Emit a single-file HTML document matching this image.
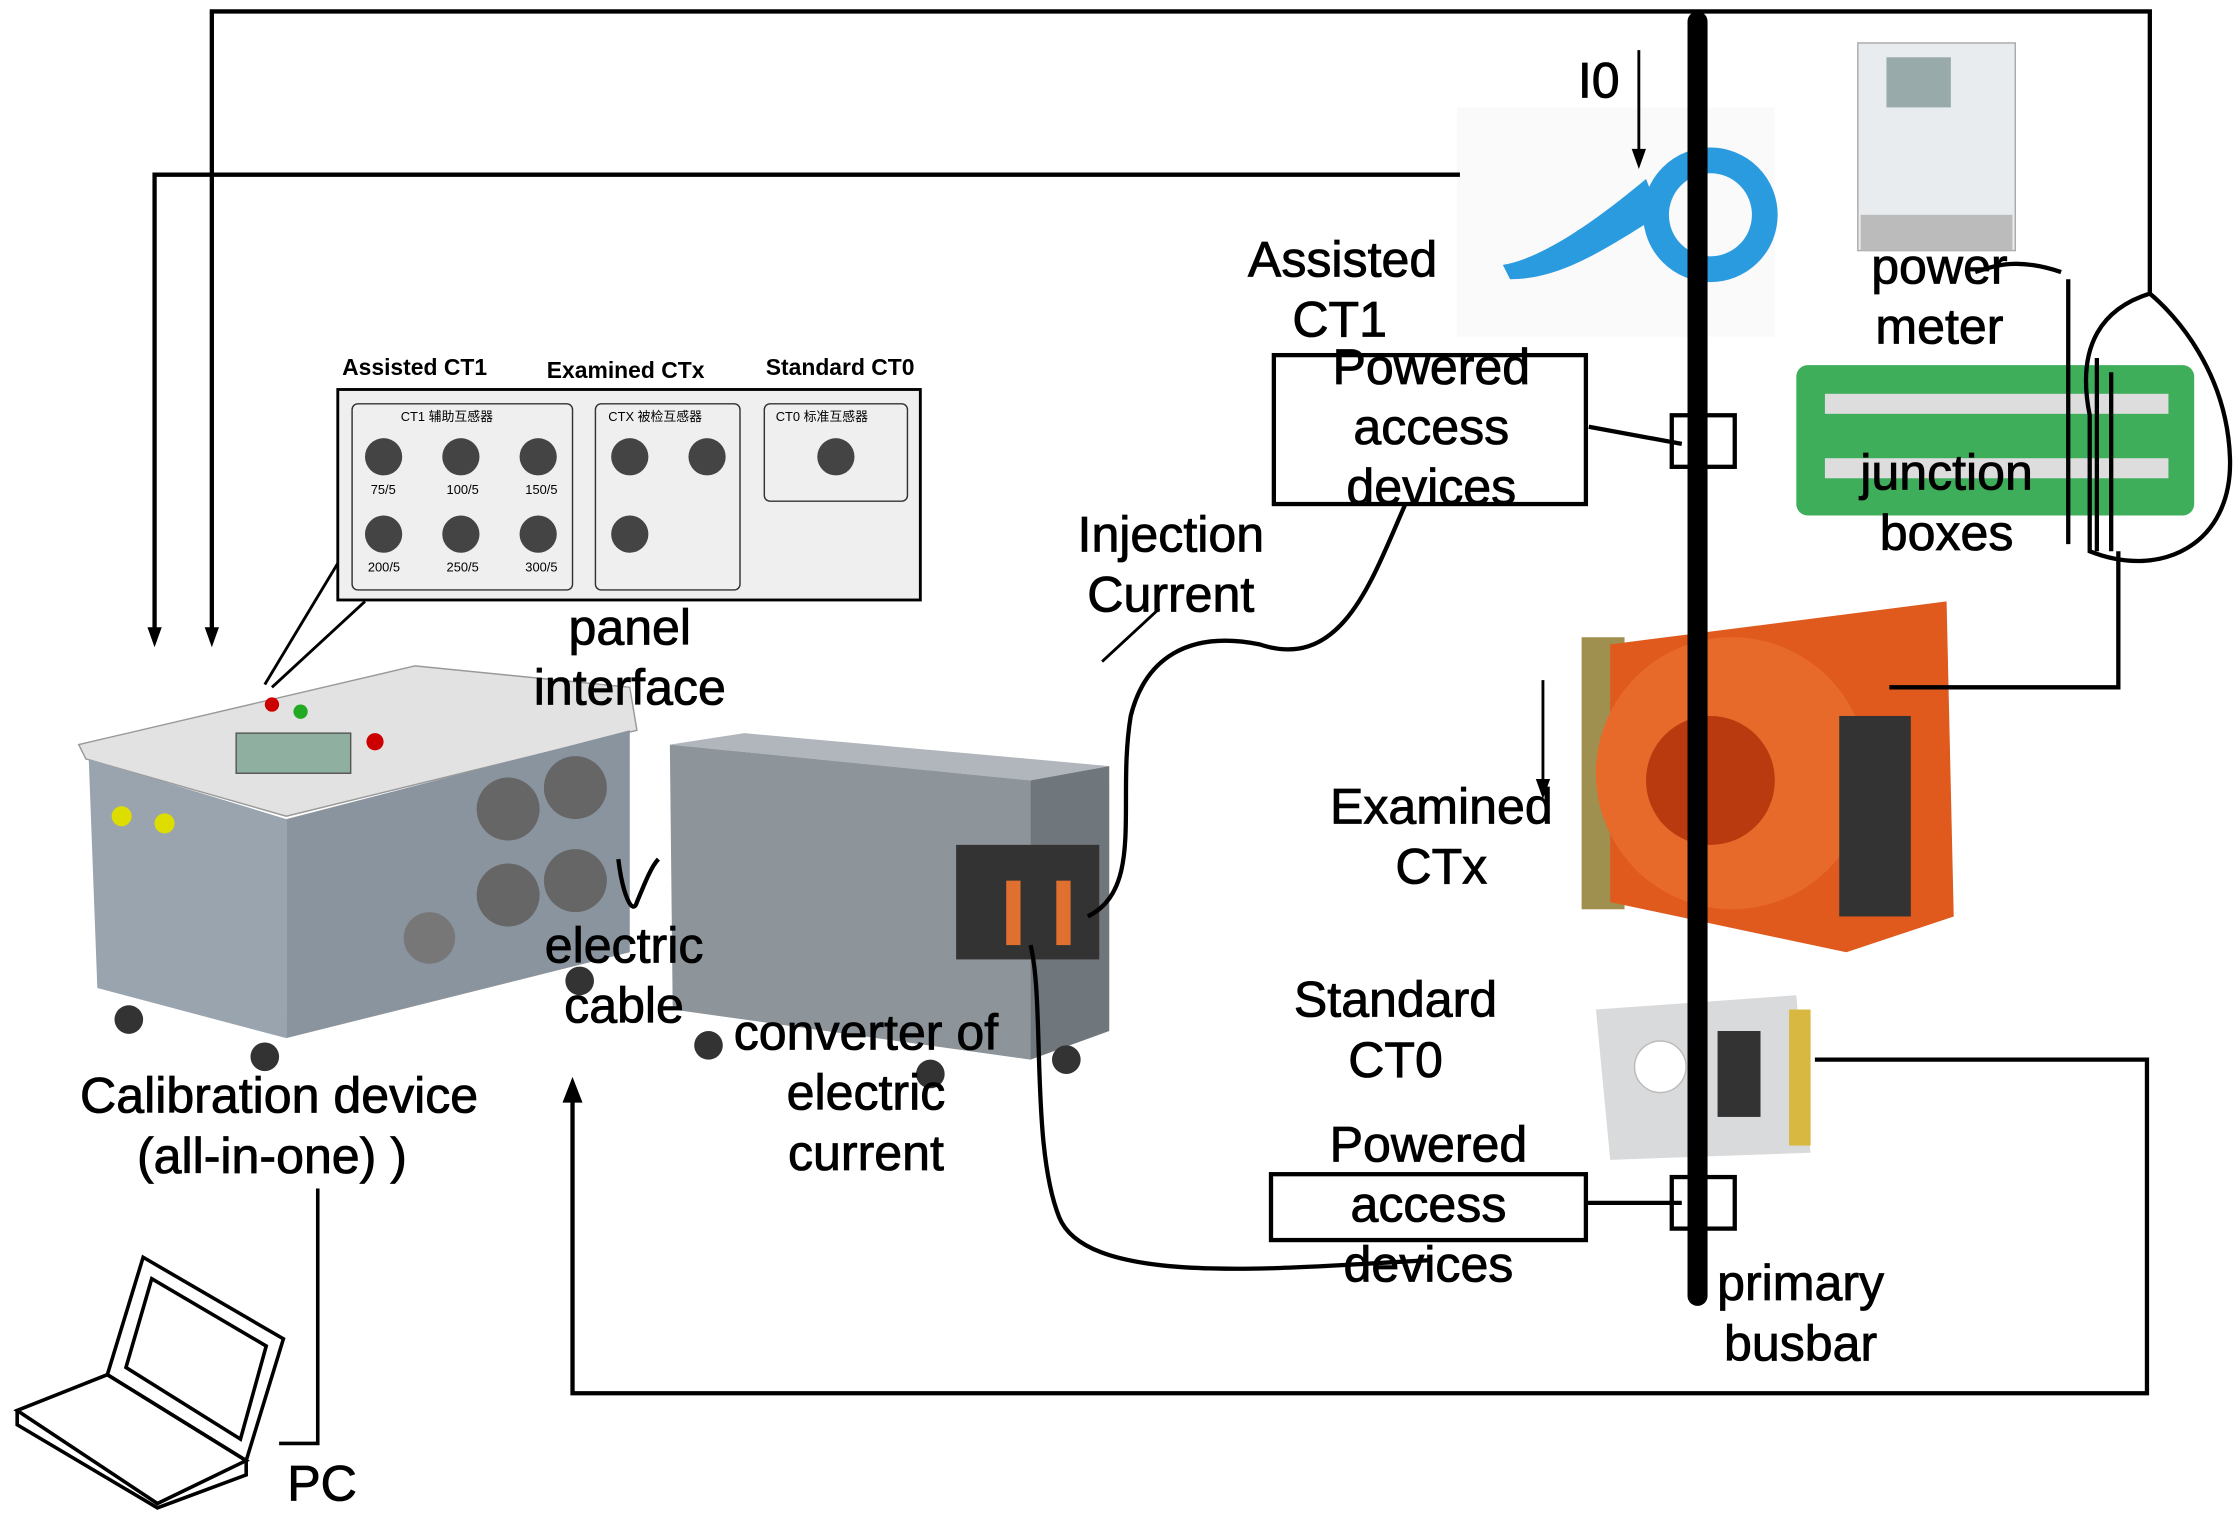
<!DOCTYPE html>
<html><head><meta charset="utf-8"><style>
html,body{margin:0;padding:0;background:#fff;}
svg{display:block;}
text{font-family:"Liberation Sans","Noto Sans CJK SC",sans-serif;fill:#000;}
</style></head><body>
<svg width="2240" height="1515" viewBox="0 0 1565 1058" preserveAspectRatio="none" xmlns="http://www.w3.org/2000/svg">
<!-- calibration device -->
<path d="M55,520 L290,465 L440,480 L445,510 L200,570 L60,530Z" fill="#e2e2e2" stroke="#999"/>
<path d="M62,530 L200,572 L200,725 L68,690Z" fill="#9aa4ae"/>
<path d="M200,572 L440,510 L440,665 L200,725Z" fill="#8a949e"/>
<rect x="165" y="512" width="80" height="28" fill="#8fb0a0" stroke="#555"/>
<circle cx="355" cy="565" r="22" fill="#666"/><circle cx="402" cy="550" r="22" fill="#666"/><circle cx="355" cy="625" r="22" fill="#666"/><circle cx="402" cy="615" r="22" fill="#666"/><circle cx="300" cy="655" r="18" fill="#777"/>
<circle cx="90" cy="712" r="10" fill="#333"/><circle cx="185" cy="738" r="10" fill="#333"/><circle cx="405" cy="685" r="10" fill="#333"/>
<circle cx="85" cy="570" r="7" fill="#dd0"/><circle cx="115" cy="575" r="7" fill="#dd0"/>
<circle cx="190" cy="492" r="5" fill="#c00"/><circle cx="210" cy="497" r="5" fill="#2a2"/><circle cx="262" cy="518" r="6" fill="#c00"/>
<!-- converter -->
<path d="M468,520 L520,512 L775,535 L720,545Z" fill="#b0b6bc"/>
<path d="M468,520 L720,545 L720,740 L470,705Z" fill="#8d949a"/>
<path d="M720,545 L775,535 L775,720 L720,740Z" fill="#6f767c"/>
<rect x="668" y="590" width="100" height="80" fill="#333"/><rect x="703" y="615" width="10" height="45" fill="#e07030"/><rect x="738" y="615" width="10" height="45" fill="#e07030"/>
<circle cx="495" cy="730" r="10" fill="#333"/><circle cx="650" cy="750" r="10" fill="#333"/><circle cx="745" cy="740" r="10" fill="#333"/>
<!-- clamp -->
<rect x="1018" y="75" width="222" height="160" fill="#fafafa"/>
<path d="M1050,185 C1080,180 1120,150 1150,125 L1160,150 C1120,175 1090,195 1055,195Z" fill="#2b9be0"/>
<circle cx="1195" cy="150" r="38" fill="none" stroke="#2b9be0" stroke-width="18"/>
<!-- power meter -->
<rect x="1298" y="30" width="110" height="145" fill="#e8ecef" stroke="#aaa"/><rect x="1318" y="40" width="45" height="35" fill="#9aa"/>
<rect x="1300" y="150" width="106" height="25" fill="#bbb"/>
<!-- junction -->
<rect x="1255" y="255" width="278" height="105" rx="8" fill="#3fae5a"/>
<g fill="#ddd"><rect x="1275" y="275" width="240" height="14"/><rect x="1275" y="320" width="240" height="14"/></g>
<!-- orange CT -->
<rect x="1105" y="445" width="30" height="190" fill="#a09050"/>
<path d="M1125,450 L1360,420 L1365,640 L1290,665 L1125,630Z" fill="#e05a1e"/>
<circle cx="1210" cy="540" r="95" fill="#e86a2a"/><circle cx="1195" cy="545" r="45" fill="#b83a0e"/>
<rect x="1285" y="500" width="50" height="140" fill="#333"/>
<!-- standard CT -->
<path d="M1115,705 L1255,695 L1265,805 L1125,810Z" fill="#d8dadc"/><circle cx="1160" cy="745" r="18" fill="#fff" stroke="#bbb"/><rect x="1200" y="720" width="30" height="60" fill="#333"/><rect x="1250" y="705" width="15" height="95" fill="#d8b840"/>

<g fill="none" stroke="#000" stroke-width="3">
<path d="M148,448 V8 H1502 V205 C1470,215 1450,240 1460,290 V385 C1510,405 1560,380 1558,320 C1556,260 1520,220 1502,205"/>
<path d="M108,448 V122 H1020"/>
<path d="M400,760 V973 H1500 V740 H1268"/>
<path d="M1480,385 V480 H1320"/>
<path d="M1110,298 L1175,310"/>
<path d="M1108,840 H1175"/>
<path d="M985,345 C960,400 940,470 880,450 C830,440 800,460 790,500 C780,560 800,620 760,640"/>
<path d="M720,660 C730,700 720,800 740,850 C760,900 900,885 1000,880"/>
<path d="M1440,190 C1410,180 1395,185 1380,190"/>
<path d="M1445,195 V380 M1465,250 V385 M1475,260 V385"/>
<path d="M432,600 C435,625 442,640 445,630 C450,618 455,605 460,600"/>
</g>
<g stroke="#000" stroke-width="2" fill="none">
<line x1="1145" y1="35" x2="1145" y2="105"/>
<line x1="1078" y1="475" x2="1078" y2="545"/>
<line x1="770" y1="462" x2="810" y2="425"/>
<line x1="185" y1="478" x2="238" y2="390"/>
<line x1="190" y1="480" x2="255" y2="420"/>
</g>
<g fill="#000">
<path d="M103,438 L113,438 L108,452Z"/>
<path d="M143,438 L153,438 L148,452Z"/>
<path d="M1140,104 L1150,104 L1145,118Z"/>
<path d="M1073,544 L1083,544 L1078,558Z"/>
<path d="M393,770 L407,770 L400,752Z"/>
</g>
<line x1="1186" y1="15" x2="1186" y2="905" stroke="#000" stroke-width="14" stroke-linecap="round"/>
<rect x="1168" y="290" width="44" height="36" fill="none" stroke="#000" stroke-width="3"/>
<rect x="1168" y="822" width="44" height="36" fill="none" stroke="#000" stroke-width="3"/>
<rect x="890" y="248" width="218" height="104" fill="#fff" stroke="#000" stroke-width="3"/>
<rect x="888" y="820" width="220" height="46" fill="#fff" stroke="#000" stroke-width="3"/>
<!-- panel interface -->
<rect x="236" y="272" width="407" height="147" fill="#efefef" stroke="#000" stroke-width="2"/>
<rect x="246" y="282" width="154" height="130" rx="4" fill="none" stroke="#333"/>
<rect x="416" y="282" width="101" height="130" rx="4" fill="none" stroke="#333"/>
<rect x="534" y="282" width="100" height="68" rx="4" fill="none" stroke="#333"/>
<g fill="#444"><circle cx="268" cy="319" r="13"/><circle cx="322" cy="319" r="13"/><circle cx="376" cy="319" r="13"/>
<circle cx="268" cy="373" r="13"/><circle cx="322" cy="373" r="13"/><circle cx="376" cy="373" r="13"/>
<circle cx="440" cy="319" r="13"/><circle cx="494" cy="319" r="13"/><circle cx="440" cy="373" r="13"/><circle cx="584" cy="319" r="13"/></g>
<g font-size="9"><text x="280" y="294">CT1 辅助互感器</text><text x="425" y="294">CTX 被检互感器</text><text x="542" y="294">CT0 标准互感器</text>
<text x="259" y="345">75/5</text><text x="312" y="345">100/5</text><text x="367" y="345">150/5</text>
<text x="257" y="399">200/5</text><text x="312" y="399">250/5</text><text x="367" y="399">300/5</text></g>
<!-- laptop -->
<g fill="none" stroke="#000" stroke-width="2.5"><path d="M75,960 L100,878 L198,935 L172,1020Z"/><path d="M88,955 L106,893 L186,940 L168,1005Z"/><path d="M12,985 L75,960 L172,1020 L110,1050Z"/><path d="M12,985 V995 L110,1053 L172,1030 V1020"/><path d="M222,830 V1008 H195"/></g>
<!-- labels -->
<g font-size="16" font-weight="bold"><text x="239" y="262">Assisted CT1</text><text x="382" y="264">Examined CTx</text><text x="535" y="262">Standard CT0</text></g>
<g font-size="35" text-anchor="middle" stroke="#000" stroke-width="0.6">
<text x="938" y="193">Assisted</text><text x="936" y="235">CT1</text>
<text x="1000" y="268">Powered</text><text x="1000" y="310">access</text><text x="1000" y="352">devices</text>
<text x="818" y="385">Injection</text><text x="818" y="427">Current</text>
<text x="1117" y="68">I0</text>
<text x="1355" y="198">power</text><text x="1355" y="240">meter</text>
<text x="1360" y="342">junction</text><text x="1360" y="384">boxes</text>
<text x="440" y="450">panel</text><text x="440" y="492">interface</text>
<text x="1007" y="575">Examined</text><text x="1007" y="617">CTx</text>
<text x="436" y="672">electric</text><text x="436" y="714">cable</text>
<text x="975" y="710">Standard</text><text x="975" y="752">CT0</text>
<text x="605" y="733">converter of</text><text x="605" y="775">electric</text><text x="605" y="817">current</text>
<text x="195" y="777">Calibration device</text><text x="190" y="819">(all-in-one) )</text>
<text x="998" y="811">Powered</text><text x="998" y="853">access</text><text x="998" y="895">devices</text>
<text x="1258" y="908">primary</text><text x="1258" y="950">busbar</text>
<text x="225" y="1048">PC</text>
</g>
</svg>
</body></html>
